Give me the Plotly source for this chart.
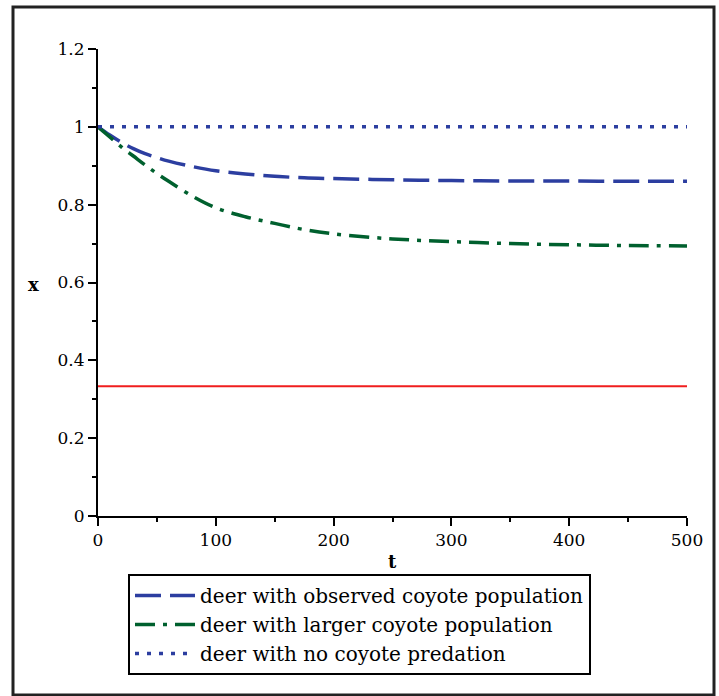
import plotly.graph_objects as go

# Data
t_obs = [0, 10, 20, 30, 40, 50, 60, 80, 100, 125, 150, 175, 200, 250, 300, 350, 400, 450, 500]
x_observed = [1.0, 0.979, 0.960, 0.944, 0.931, 0.921, 0.912, 0.898, 0.887, 0.879, 0.873, 0.869, 0.867, 0.864, 0.862, 0.861, 0.861, 0.860, 0.860]
x_larger = [1.0, 0.974, 0.948, 0.925, 0.902, 0.880, 0.860, 0.822, 0.792, 0.769, 0.752, 0.736, 0.725, 0.712, 0.705, 0.700, 0.697, 0.695, 0.694]
t_flat = [0, 500]
x_no_pred = [1.0, 1.0]
x_red = [1/3, 1/3]

names = ["deer with observed coyote population",
         "deer with larger coyote population",
         "deer with no coyote predation"]

BLUE = "rgb(44,62,160)"
GREEN = "rgb(0,96,46)"
RED = "rgb(240,30,30)"
FONT = "DejaVu Serif, Liberation Serif, serif"

fig = go.Figure()
fig.add_trace(go.Scatter(x=t_obs, y=x_observed, mode="lines", name=names[0],
                         line=dict(color=BLUE, width=3.5, dash="26px,9px", shape="spline")))
fig.add_trace(go.Scatter(x=t_obs, y=x_larger, mode="lines", name=names[1],
                         line=dict(color=GREEN, width=3.5, dash="20px,8px,4px,8px", shape="spline")))
fig.add_trace(go.Scatter(x=t_flat, y=x_no_pred, mode="lines", name=names[2],
                         line=dict(color=BLUE, width=3.5, dash="4px,8px")))
fig.add_trace(go.Scatter(x=t_flat, y=x_red, mode="lines", showlegend=False,
                         line=dict(color=RED, width=2)))

W, H = 719, 696
L, R, T, B = 98, 32, 49, 180

pw = W - L - R
ph = H - T - B

def px(xp):
    return (xp - L) / pw

def py(yp):
    return (H - B - yp) / ph

fig.update_layout(
    width=W, height=H, autosize=False,
    margin=dict(l=L, r=R, t=T, b=B),
    paper_bgcolor="white", plot_bgcolor="white",
    font=dict(family=FONT, color="black", size=17),
    xaxis=dict(range=[0, 500], tickvals=[0, 100, 200, 300, 400, 500],
               ticks="outside", ticklen=8, tickwidth=2, tickcolor="black",
               minor=dict(tickvals=[50, 150, 250, 350, 450], ticks="outside", ticklen=4,
                          tickwidth=2, tickcolor="black"),
               showline=True, linecolor="black", linewidth=2,
               showgrid=False, zeroline=False, tickfont=dict(size=17)),
    yaxis=dict(range=[0, 1.2], tickvals=[0, 0.2, 0.4, 0.6, 0.8, 1.0, 1.2],
               ticktext=["0", "0.2", "0.4", "0.6", "0.8", "1", "1.2"],
               ticks="outside", ticklen=8, tickwidth=2, tickcolor="black",
               minor=dict(tickvals=[0.1, 0.3, 0.5, 0.7, 0.9, 1.1], ticks="outside", ticklen=4,
                          tickwidth=2, tickcolor="black"),
               showline=True, linecolor="black", linewidth=2,
               showgrid=False, zeroline=False, tickfont=dict(size=17)),
    legend=dict(x=px(128), y=py(574), xanchor="left", yanchor="top",
                bordercolor="black", borderwidth=2, bgcolor="rgba(0,0,0,0)",
                font=dict(family=FONT, size=20, color="black"),
                itemwidth=60, tracegroupgap=0),
    showlegend=True,
)

fig.add_annotation(x=px(33), y=py(284), xref="paper", yref="paper", text="<b>x</b>",
                   xanchor="center", yanchor="middle",
                   showarrow=False, font=dict(family=FONT, size=18))
fig.add_annotation(x=px(392), y=py(561), xref="paper", yref="paper", text="<b>t</b>",
                   xanchor="center", yanchor="middle",
                   showarrow=False, font=dict(family=FONT, size=18))

fig.add_shape(type="rect", xref="paper", yref="paper",
              x0=px(13), x1=px(714), y0=py(695), y1=py(7),
              line=dict(color="#222", width=3), layer="below")

fig.write_html("out.html")
